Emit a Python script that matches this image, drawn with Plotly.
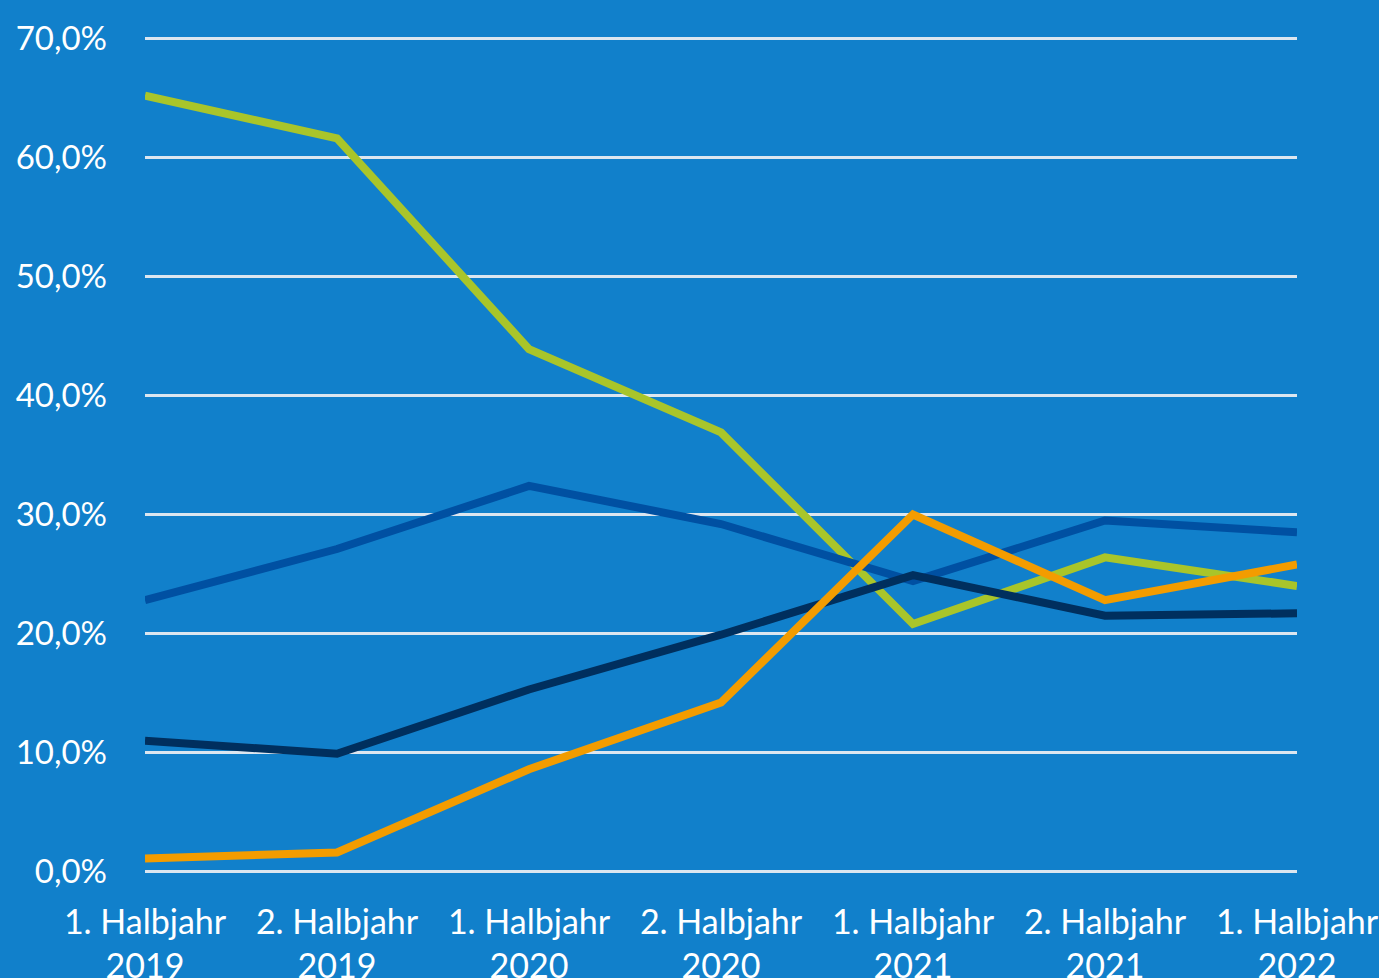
import plotly.graph_objects as go

categories = ["1. Halbjahr<br>2019", "2. Halbjahr<br>2019", "1. Halbjahr<br>2020", "2. Halbjahr<br>2020",
              "1. Halbjahr<br>2021", "2. Halbjahr<br>2021", "1. Halbjahr<br>2022"]
green_vals = [65.2, 61.6, 43.9, 36.9, 20.8, 26.4, 24.0]
blue_vals = [22.8, 27.1, 32.4, 29.2, 24.4, 29.5, 28.5]
navy_vals = [11.0, 9.9, 15.3, 19.9, 24.9, 21.5, 21.7]
orange_vals = [1.1, 1.6, 8.6, 14.2, 30.0, 22.8, 25.8]
y_ticks = [0, 10, 20, 30, 40, 50, 60, 70]
y_tick_labels = ["0,0%", "10,0%", "20,0%", "30,0%", "40,0%", "50,0%", "60,0%", "70,0%"]

series = [
    (green_vals, "#A9C52A"),
    (blue_vals, "#0050A2"),
    (navy_vals, "#002F5E"),
    (orange_vals, "#F39C00"),
]

fig = go.Figure()
x_idx = list(range(len(categories)))
for vals, col in series:
    fig.add_trace(go.Scatter(x=x_idx, y=vals, mode="lines",
                             line=dict(color=col, width=8), showlegend=False,
                             hoverinfo="y"))

font = dict(family="Lato, Carlito, Calibri, sans-serif", size=34, color="#FFFFFF")
yfont = dict(family="Lato, Carlito, Calibri, sans-serif", size=33, color="#FFFFFF")
fig.update_layout(
    width=1379, height=978,
    paper_bgcolor="#1180CB", plot_bgcolor="#1180CB",
    margin=dict(l=145, r=82, t=37, b=105),
    font=font,
    xaxis=dict(range=[0, 6], tickmode="array", tickvals=x_idx, ticktext=categories,
               showgrid=False, zeroline=False, showline=False, ticks="",
               tickfont=font, ticklabelstandoff=26, automargin=False),
    yaxis=dict(range=[-0.12, 70.12], tickmode="array", tickvals=y_ticks, ticktext=y_tick_labels,
               showgrid=True, gridcolor="#DCE6F0", gridwidth=3, zeroline=False,
               showline=False, ticks="", tickfont=yfont, ticklabelstandoff=37, automargin=False),
)
fig.write_html("out.html", config={"displayModeBar": False},
               post_script="document.body.style.margin='0';document.body.style.overflow='hidden';")
